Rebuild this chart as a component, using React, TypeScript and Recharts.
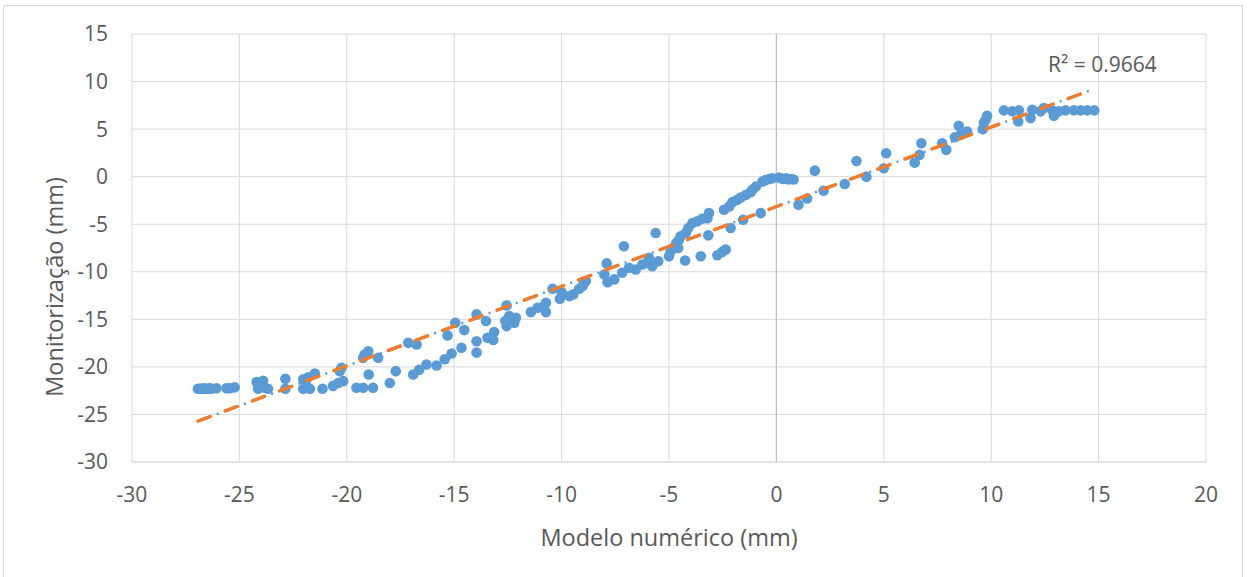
import {
  CartesianGrid,
  Label,
  ReferenceLine,
  Scatter,
  ScatterChart,
  XAxis,
  YAxis,
} from "recharts";

// Excel-style scatter: numeric model vs monitoring, with a linear trendline
const C_POINT = "#5b9bd5";
const C_TREND = "#ed7d31";
const C_GRID = "#d9d9d9";
const C_TEXT = "#595959";
const FONT = "'Open Sans', 'Noto Sans', sans-serif";

const X_TICKS = [-30, -25, -20, -15, -10, -5, 0, 5, 10, 15, 20];
const Y_TICKS = [-30, -25, -20, -15, -10, -5, 0, 5, 10, 15];

// Modelo numérico (mm)
const MODELO = [
  -26.93, -26.85, -26.77, -26.68, -26.61, -26.53, -26.46, -26.38, -26.3, -26.07, -25.6, -25.45, -25.22,
  -24.2, -23.9, -24.13, -23.82, -23.67, -24.0,
  -22.86, -22.86, -22.03, -21.8, -21.49, -22.03, -21.72, -21.88, -21.13,
  -20.64, -20.4, -20.17, -20.25, -20.33, -19.55, -19.24, -18.78,
  -19.16, -19.0, -19.24, -18.54, -18.98, -18.0, -17.72,
  -16.91, -16.63, -16.29, -17.14, -16.75,
  -15.82, -15.44, -15.12, -14.66, -13.96, -13.96,
  -14.95, -14.53, -15.31, -13.96, -13.52, -13.45, -13.14, -13.18,
  -12.56, -12.62, -12.44, -12.13, -12.2, -12.56,
  -11.43, -11.12, -10.73, -10.73, -10.85, -10.42,
  -10.0, -10.08, -9.64, -9.46, -9.18, -8.95, -9.02, -8.87,
  -7.9, -8.01, -7.86, -7.55, -7.18,
  -7.1, -5.62, -6.86, -6.55, -6.24, -6.01, -5.93, -5.78, -5.5,
  -5.0, -4.92, -4.77, -4.66, -4.53, -4.57, -4.46, -4.22, -4.25,
  -4.1, -3.91, -3.68, -3.45, -3.21, -3.14, -3.52, -3.17,
  -2.75, -2.52, -2.36,
  -2.44, -2.2, -2.05, -1.82, -1.66, -1.43, -1.2, -1.12,
  -2.13, -1.55, -0.73,
  -0.96, -0.65, -0.5, -0.34, -0.19, 0.12, 0.3, 0.43, 0.55, 0.67, 0.8,
  1.03, 1.43, 2.2, 1.79, 3.18, 3.73, 4.19, 5.0, 5.11, 6.44, 6.66, 6.75, 7.72, 7.91,
  8.31, 8.49, 8.57, 8.88, 9.61, 9.74, 9.81, 9.66,
  10.59, 10.98, 11.29, 11.26, 11.83, 11.91, 12.3, 12.45, 12.84, 12.92, 13.15, 13.46, 13.85, 14.16, 14.47, 14.8,
];

// Monitorização (mm)
const MONITOR = [
  -22.3, -22.3, -22.3, -22.25, -22.3, -22.3, -22.3, -22.25, -22.3, -22.25, -22.25, -22.25, -22.15,
  -21.6, -21.45, -22.3, -22.2, -22.3, -21.9,
  -21.25, -22.3, -21.3, -21.1, -20.7, -22.3, -22.3, -22.0, -22.3,
  -22.0, -21.7, -21.5, -20.1, -20.45, -22.2, -22.2, -22.2,
  -18.7, -18.35, -19.05, -19.05, -20.8, -21.7, -20.45,
  -20.8, -20.3, -19.75, -17.47, -17.65,
  -19.85, -19.2, -18.6, -18.0, -17.3, -18.5,
  -15.36, -16.13, -16.69, -14.48, -15.18, -16.93, -16.34, -17.18,
  -13.54, -15.18, -14.66, -14.83, -15.36, -15.71,
  -14.24, -13.78, -13.26, -14.24, -13.68, -11.79,
  -12.14, -12.84, -12.56, -12.38, -11.79, -11.16, -11.5, -10.98,
  -9.12, -10.28, -11.09, -10.8, -10.1,
  -7.32, -5.92, -9.58, -9.76, -9.23, -9.06, -8.54, -9.41, -8.89,
  -8.36, -7.84, -7.42, -6.97, -6.62, -7.49, -6.27, -5.92, -8.82,
  -5.4, -4.88, -4.7, -4.43, -4.36, -3.83, -8.36, -6.17,
  -8.26, -7.91, -7.67,
  -3.48, -3.14, -2.68, -2.44, -2.2, -1.92, -1.64, -1.39,
  -5.4, -4.53, -3.83,
  -1.05, -0.52, -0.35, -0.24, -0.17, -0.1, -0.25, -0.17, -0.28, -0.24, -0.3,
  -2.96, -2.29, -1.48, 0.63, -0.77, 1.65, 0.0, 0.88, 2.46, 1.48, 2.29, 3.52, 3.52, 2.82,
  4.15, 5.35, 4.4, 4.75, 5.0, 5.99, 6.41, 5.63,
  6.97, 6.87, 6.97, 5.81, 6.16, 7.04, 6.87, 7.22, 6.97, 6.41, 6.87, 6.97, 6.97, 6.97, 6.97, 6.97,
];

const R2_TEXT = "R² = 0.9664";

const points = MODELO.map((x, i) => ({ x, y: MONITOR[i] }));

// least-squares linear fit, drawn over the data's x range like Excel does
function linearTrend(xs: number[], ys: number[]) {
  const n = xs.length;
  const mx = xs.reduce((s, v) => s + v, 0) / n;
  const my = ys.reduce((s, v) => s + v, 0) / n;
  let sxy = 0;
  let sxx = 0;
  for (let i = 0; i < n; i++) {
    sxy += (xs[i] - mx) * (ys[i] - my);
    sxx += (xs[i] - mx) ** 2;
  }
  const b = sxy / sxx;
  const a = my - b * mx;
  const lo = Math.min(...xs);
  const hi = Math.max(...xs);
  return [
    { x: lo, y: a + b * lo },
    { x: hi, y: a + b * hi },
  ];
}

const trend = linearTrend(MODELO, MONITOR);

const Dot = (p: any) => <circle cx={p.cx} cy={p.cy} r={5.3} fill={C_POINT} />;
const NoDot = () => <g />;

export default function App() {
  return (
    <div style={{ position: "absolute", left: 0, top: 0, width: 1248, height: 577, background: "#fff" }}>
      <div
        style={{
          position: "absolute",
          left: 3,
          top: 5,
          width: 1240,
          height: 580,
          border: `1px solid ${C_GRID}`,
          boxSizing: "border-box",
        }}
      />
      <ScatterChart
        width={1248}
        height={577}
        margin={{ top: 34, right: 42, bottom: 0, left: 0 }}
        style={{ position: "absolute", left: 0, top: 0, fontFamily: FONT }}
      >
        <CartesianGrid stroke={C_GRID} strokeWidth={1} />
        <XAxis
          type="number"
          dataKey="x"
          domain={[-30, 20]}
          ticks={X_TICKS}
          height={115}
          tickSize={0}
          tickMargin={25}
          tickLine={false}
          axisLine={{ stroke: C_GRID }}
          tick={{ fontSize: 21, fill: C_TEXT }}
        >
          <Label
            content={() => (
              <text x={669} y={546} textAnchor="middle" fontSize={23.5} fill={C_TEXT} fontFamily={FONT}>
                Modelo numérico (mm)
              </text>
            )}
          />
        </XAxis>
        <YAxis
          type="number"
          dataKey="y"
          domain={[-30, 15]}
          ticks={Y_TICKS}
          width={132}
          tickSize={0}
          tickMargin={24}
          tickLine={false}
          axisLine={false}
          tick={{ fontSize: 21, fill: C_TEXT }}
        >
          <Label
            content={() => (
              <g>
                <text
                  transform="translate(63,287) rotate(-90)"
                  textAnchor="middle"
                  fontSize={23.5}
                  fill={C_TEXT}
                  fontFamily={FONT}
                >
                  Monitorização (mm)
                </text>
                <text x={1048} y={72} fontSize={21} fill={C_TEXT} fontFamily={FONT}>
                  {R2_TEXT}
                </text>
              </g>
            )}
          />
        </YAxis>
        <ReferenceLine x={0} stroke="#bfbfbf" strokeWidth={1.2} />
        <Scatter data={points} shape={Dot} isAnimationActive={false} legendType="none" />
        <Scatter
          data={trend}
          shape={NoDot}
          isAnimationActive={false}
          legendType="none"
          line={{ stroke: C_POINT, strokeWidth: 2.5, strokeDasharray: "14 6 2 7" }}
        />
        <Scatter
          data={trend}
          shape={NoDot}
          isAnimationActive={false}
          legendType="none"
          line={{ stroke: C_TREND, strokeWidth: 3.5, strokeDasharray: "13 16", strokeLinecap: "round" }}
        />
      </ScatterChart>
    </div>
  );
}
